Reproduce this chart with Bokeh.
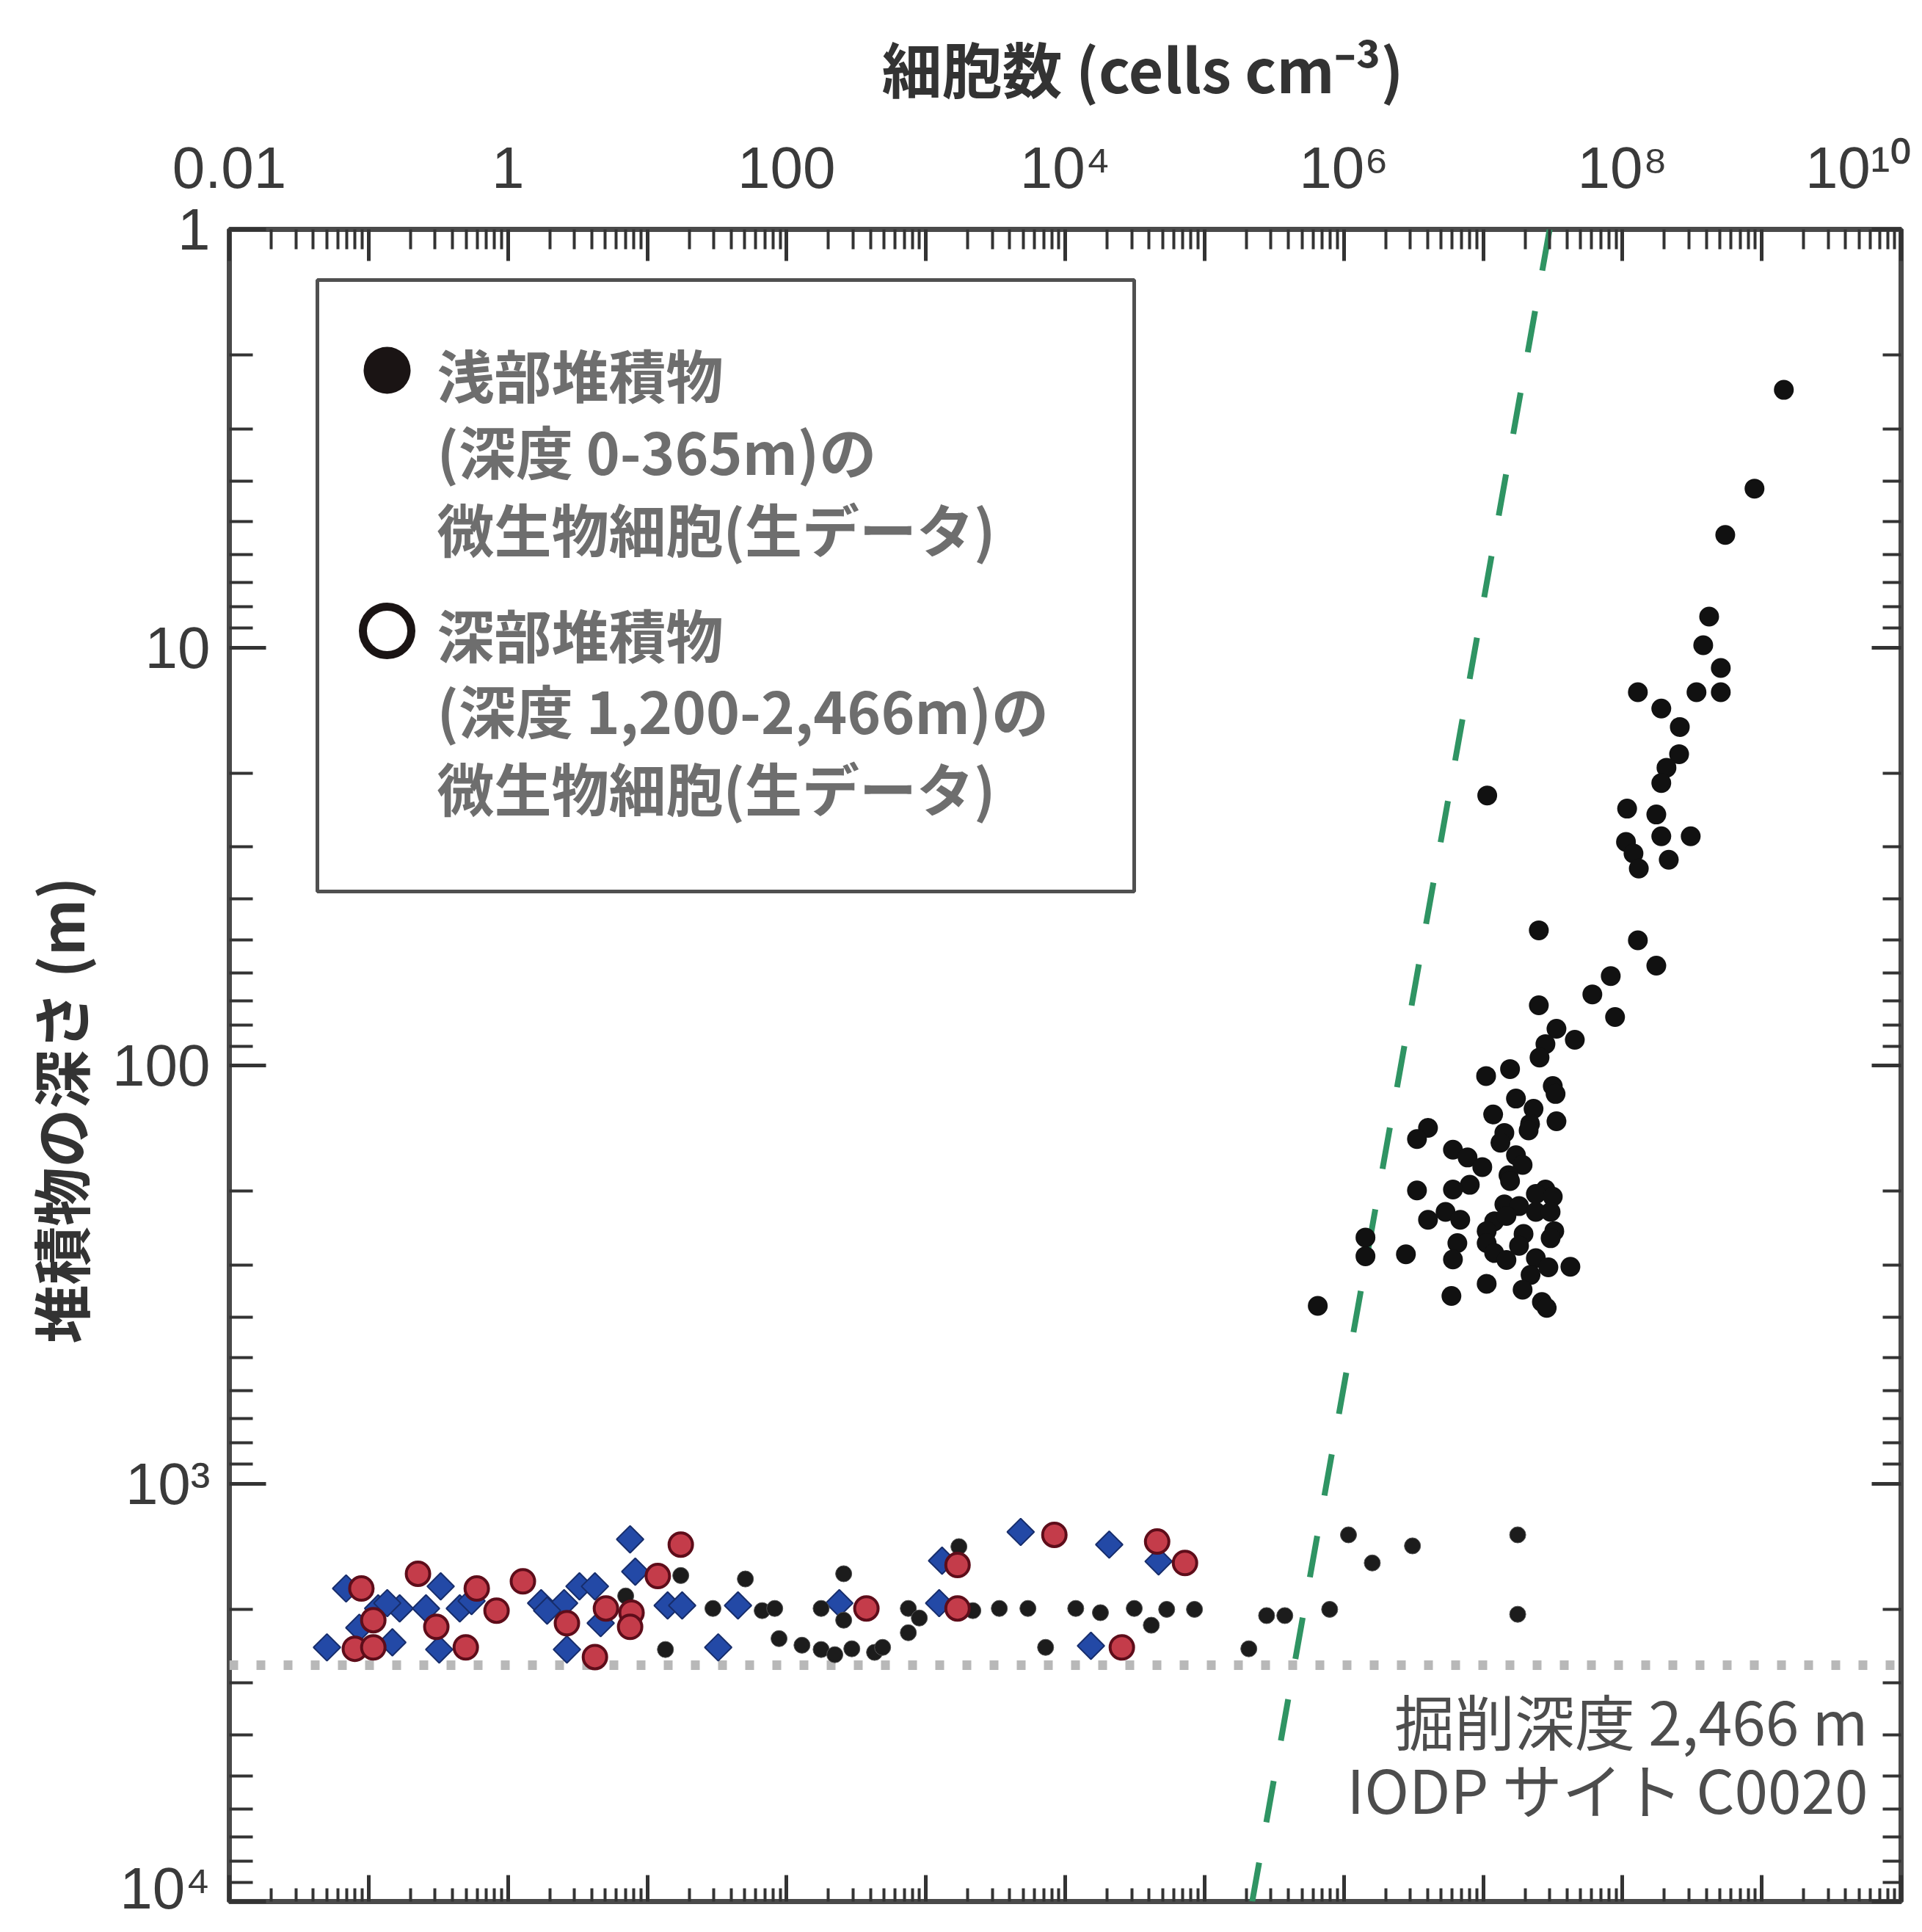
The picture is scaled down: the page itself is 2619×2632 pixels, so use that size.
import numpy as np
from bokeh.plotting import figure
from bokeh.models import Range1d, LogAxis, FixedTicker, Label, BoxAnnotation, Span, Title
from bokeh.embed import file_html
from bokeh.resources import INLINE

# ---------------- data ----------------
# shallow sediments (0-365 m): cells per cm3, depth in m
shallow_cells = [1.44e9, 8.87e8, 5.47e8, 4.19e8, 3.80e8, 5.08e8, 3.40e8, 5.08e8, 1.29e8, 1.90e8,
                 2.58e8, 2.55e8, 2.07e8, 1.90e8, 1.08e8, 1.75e8, 3.09e8, 1.90e8, 1.06e8, 1.20e8,
                 1.31e8, 2.15e8, 1.07e7, 2.51e7, 1.29e8, 1.75e8, 8.24e7, 6.08e7, 2.51e7, 8.85e7,
                 3.36e7, 2.80e7, 4.55e7, 2.54e7, 1.05e7, 1.56e7, 3.16e7, 1.72e7, 3.31e7, 2.30e7,
                 1.18e7, 3.36e7, 2.17e7, 1.42e7, 2.12e7, 4.02e6, 3.35e6, 1.33e7, 6.07e6, 7.73e6,
                 9.86e6, 1.72e7, 1.92e7, 1.52e7, 1.56e7, 3.35e6, 8.02e6, 6.07e6, 2.80e7, 2.39e7,
                 3.16e7, 1.42e7, 1.81e7, 2.39e7, 3.05e7, 4.02e6, 5.37e6, 6.85e6, 1.20e7, 1.47e7,
                 1.06e7, 3.24e7, 1.95e7, 6.53e6, 3.05e7, 1.06e7, 1.81e7, 1.20e7, 2.79e6, 6.07e6,
                 1.47e7, 2.39e7, 4.23e7, 2.94e7, 2.19e7, 1.06e7, 1.92e7, 5.92e6, 2.64e7, 2.86e7,
                 6.50e5, 1.43e6, 1.43e6]
shallow_depth = [2.42, 4.17, 5.38, 8.44, 9.88, 11.2, 12.8, 12.8, 12.8, 14.0,
                 15.5, 18.0, 19.4, 21.1, 24.3, 25.1, 28.3, 28.3, 29.2, 31.1,
                 33.8, 32.2, 22.6, 47.5, 50.2, 57.7, 61.1, 67.6, 71.8, 76.6,
                 81.7, 88.9, 86.8, 95.7, 106, 102, 112, 120, 117, 127,
                 131, 136, 138, 145, 143, 141, 150, 153, 159, 166,
                 175, 164, 173, 183, 189, 199, 193, 198, 198, 203,
                 206, 215, 217, 224, 224, 234, 224, 234, 236, 229,
                 249, 249, 253, 266, 259, 266, 270, 281, 283, 291,
                 292, 289, 303, 304, 317, 333, 344, 356, 368, 380,
                 376, 258, 286]

# deep sediments (1,200-2,466 m), three marker kinds as drawn
deep_black_cells = [1.08e6, 3.11e6, 1.77e7, 1.60e6, 5.35e4, 8.47e4, 2.79e5, 3.77e5, 7.91e5, 1.77e7,
                    2.08e5, 1726, 50.6, 257, 66.8, 82.2, 177, 257, 748, 897,
                    2173, 3365, 5400, 1.19e4, 1.79e4, 3.13e4, 4.15e4, 88.3, 129, 177,
                    222, 294, 428, 489, 748, 7230, 17.4, 7.0, 29.6, 13.5]
deep_black_depth = [1327, 1410, 1327, 1549, 2000, 2000, 2070, 2070, 2000, 2055,
                    2485, 1416, 1692, 1644, 2014, 1990, 1990, 2123, 1990, 2098,
                    2014, 1990, 1990, 1990, 2037, 1990, 2183, 2350, 2437, 2495,
                    2567, 2485, 2535, 2466, 2275, 2466, 1660, 1858, 1990, 2495]

deep_blue_cells = [7.53, 8.20, 0.0689, 0.329, 3.26, 4.21, 0.117, 0.167, 0.258, 0.451,
                   1.73, 2.53, 14.0, 17.8, 44.8, 0.0857, 4.63, 0.0502, 0.148, 0.321,
                   2.65, 32.3, 4790, 2.07e4, 4.68e4, 1306, 239, 1245, 1.53e4, 0.136,
                   0.548, 1.91]
deep_blue_depth = [1360, 1625, 1783, 1762, 1762, 1762, 1990, 1990, 1990, 1990,
                   1933, 1933, 1958, 1958, 1958, 2213, 2158, 2466, 2399, 2495,
                   2495, 2466, 1306, 1400, 1536, 1530, 1933, 1933, 2445, 1933,
                   1910, 2014]

deep_red_cells = [17.4, 0.226, 1.28, 11.9, 0.0887, 0.597, 0.828, 5.05, 7.71, 0.108,
                  0.306, 2.65, 7.53, 0.0796, 0.108, 0.498, 4.21, 8360, 4.57e4, 7.24e4,
                  1687, 374, 1687, 2.55e4]
deep_red_depth = [1400, 1644, 1714, 1665, 1783, 1783, 2014, 1990, 2037, 2123,
                  2203, 2158, 2203, 2485, 2466, 2466, 2601, 1327, 1377, 1549,
                  1567, 1990, 1990, 2466]

# dashed green trend line (end points) and drilled depth line
trend_cells = [3.0e7, 2.2e5]
trend_depth = [1.0, 1.0e4]
drill_line_depth = 2720

x_tick_values = [10.0 ** k for k in range(-2, 11)]
x_tick_labels = ["0.01", "", "1", "", "100", "", "10⁴", "", "10⁶", "", "10⁸", "", "10¹⁰"]
y_tick_values = [1.0, 10.0, 100.0, 1000.0, 10000.0]
y_tick_labels = ["1", "10", "100", "10³", "10⁴"]

x_title = "細胞数 (cells cm⁻³)"
y_title = "堆積物の深さ (m)"
legend_lines_1 = ["浅部堆積物", "(深度 0-365m)の", "微生物細胞(生データ)"]
legend_lines_2 = ["深部堆積物", "(深度 1,200-2,466m)の", "微生物細胞(生データ)"]
site_lines = ["掘削深度 2,466 m", "IODP サイト C0020"]

# ---------------- layout ----------------
W, H = 2603, 2616
FL, FT, FW = 312, 312, 2278          # frame left/top/size in canvas px
X_DEC = (-2, 10)
Y_DEC = (0, 4)


def dx(X):
    return 10 ** (X_DEC[0] + (X_DEC[1] - X_DEC[0]) * (X - FL) / FW)


def dy(Y):
    return 10 ** (Y_DEC[0] + (Y_DEC[1] - Y_DEC[0]) * (Y - FT) / FW)


p = figure(width=W, height=H, x_axis_type="log", y_axis_type="log",
           x_range=Range1d(10.0 ** X_DEC[0], 10.0 ** X_DEC[1]),
           y_range=Range1d(10.0 ** Y_DEC[1], 10.0 ** Y_DEC[0]),
           x_axis_location="above", output_backend="svg", toolbar_location=None,
           min_border_left=FL, min_border_top=FT,
           min_border_right=W - FL - FW, min_border_bottom=H - FT - FW)
p.xgrid.visible = False
p.ygrid.visible = False
p.background_fill_color = "white"
p.border_fill_color = "white"
p.outline_line_color = "#4a4a4a"
p.outline_line_width = 7

x_minor = [m * 10.0 ** k for k in range(X_DEC[0], X_DEC[1]) for m in range(2, 10)]
y_minor = [m * 10.0 ** k for k in range(Y_DEC[0], Y_DEC[1]) for m in range(2, 10)]
TICK_COLOR = "#333333"
LABEL_FONT = "Liberation Sans"
CJK_FONT = "Noto Sans CJK JP"


def style_axis(ax, major_in, minor_in):
    ax.axis_line_color = None
    ax.major_tick_in = major_in
    ax.major_tick_out = 0
    ax.minor_tick_in = minor_in
    ax.minor_tick_out = 0
    ax.major_tick_line_color = TICK_COLOR
    ax.minor_tick_line_color = TICK_COLOR
    ax.major_tick_line_width = 5
    ax.minor_tick_line_width = 4


top = p.xaxis[0]
top.ticker = FixedTicker(ticks=x_tick_values, minor_ticks=x_minor)
top.major_label_overrides = dict(zip(x_tick_values, x_tick_labels))
top.major_label_text_font = LABEL_FONT
top.major_label_text_font_size = "80px"
top.major_label_text_color = "#3a3a3a"
top.major_label_standoff = 40
style_axis(top, 43, 27)

left = p.yaxis[0]
left.ticker = FixedTicker(ticks=y_tick_values, minor_ticks=y_minor)
left.major_label_overrides = dict(zip(y_tick_values, y_tick_labels))
left.major_label_text_font = LABEL_FONT
left.major_label_text_font_size = "80px"
left.major_label_text_color = "#3a3a3a"
left.major_label_standoff = 26
style_axis(left, 50, 32)

bottom = LogAxis(ticker=FixedTicker(ticks=x_tick_values, minor_ticks=x_minor))
bottom.major_label_overrides = {v: "" for v in x_tick_values}
bottom.major_label_text_font_size = "0px"
bottom.major_label_standoff = 0
style_axis(bottom, 36, 18)
p.add_layout(bottom, "below")

right = LogAxis(ticker=FixedTicker(ticks=y_tick_values, minor_ticks=y_minor))
right.major_label_overrides = {v: "" for v in y_tick_values}
right.major_label_text_font_size = "0px"
right.major_label_standoff = 0
style_axis(right, 40, 25)
p.add_layout(right, "right")

# axis titles
p.add_layout(Title(text=x_title, align="left", offset=889, standoff=59,
                   text_font=CJK_FONT, text_font_size="82px", text_font_style="bold",
                   text_color="#333333"), "above")
p.add_layout(Title(text=y_title, align="left", offset=760, standoff=26,
                   text_font=CJK_FONT, text_font_size="80px", text_font_style="bold",
                   text_color="#333333"), "left")

# drilled depth dotted line
p.add_layout(Span(location=drill_line_depth, dimension="width", line_color="#b8b8b8",
                  line_width=13, line_dash="12 25", level="underlay"))

# trend line
p.line(trend_cells, trend_depth, line_color="#2f9463", line_width=8, line_dash="57 56")

# data points
p.scatter(deep_blue_cells, deep_blue_depth, marker="square", angle=np.pi / 4, size=26,
          fill_color="#2349a6", line_color="#172d6b", line_width=2)
p.scatter(deep_black_cells, deep_black_depth, marker="circle", size=22,
          fill_color="#1c1c1c", line_color="#555555", line_width=1)
p.scatter(deep_red_cells, deep_red_depth, marker="circle", size=32,
          fill_color="#c43c4a", line_color="#5e0d1a", line_width=4)
p.scatter(shallow_cells, shallow_depth, marker="circle", size=27,
          fill_color="#111111", line_color=None)

# legend box
p.add_layout(BoxAnnotation(left=dx(432), right=dx(1545), top=dy(381), bottom=dy(1214),
                           fill_color="white", fill_alpha=1.0, line_color="#505050",
                           line_alpha=1.0, line_width=5, level="underlay"))
p.scatter([dx(527)], [dy(504)], marker="circle", size=64, fill_color="#1a1414", line_color=None)
p.scatter([dx(527)], [dy(859)], marker="circle", size=66, fill_color="white",
          line_color="#1a1414", line_width=11)
for lines, ys in ((legend_lines_1, (508, 612, 718)), (legend_lines_2, (862, 965, 1071))):
    for t, yy in zip(lines, ys):
        p.add_layout(Label(x=dx(595), y=dy(yy), text=t, text_font=CJK_FONT,
                           text_font_size="78px", text_font_style="bold",
                           text_color="#6e6e6e", text_align="left", text_baseline="middle"))

# site text
for t, yy in zip(site_lines, (2342, 2435)):
    p.add_layout(Label(x=dx(2545), y=dy(yy), text=t, text_font=CJK_FONT,
                       text_font_size="82px", text_color="#4d4d4d",
                       text_align="right", text_baseline="middle"))

open("out.html", "w").write(file_html(p, INLINE))
